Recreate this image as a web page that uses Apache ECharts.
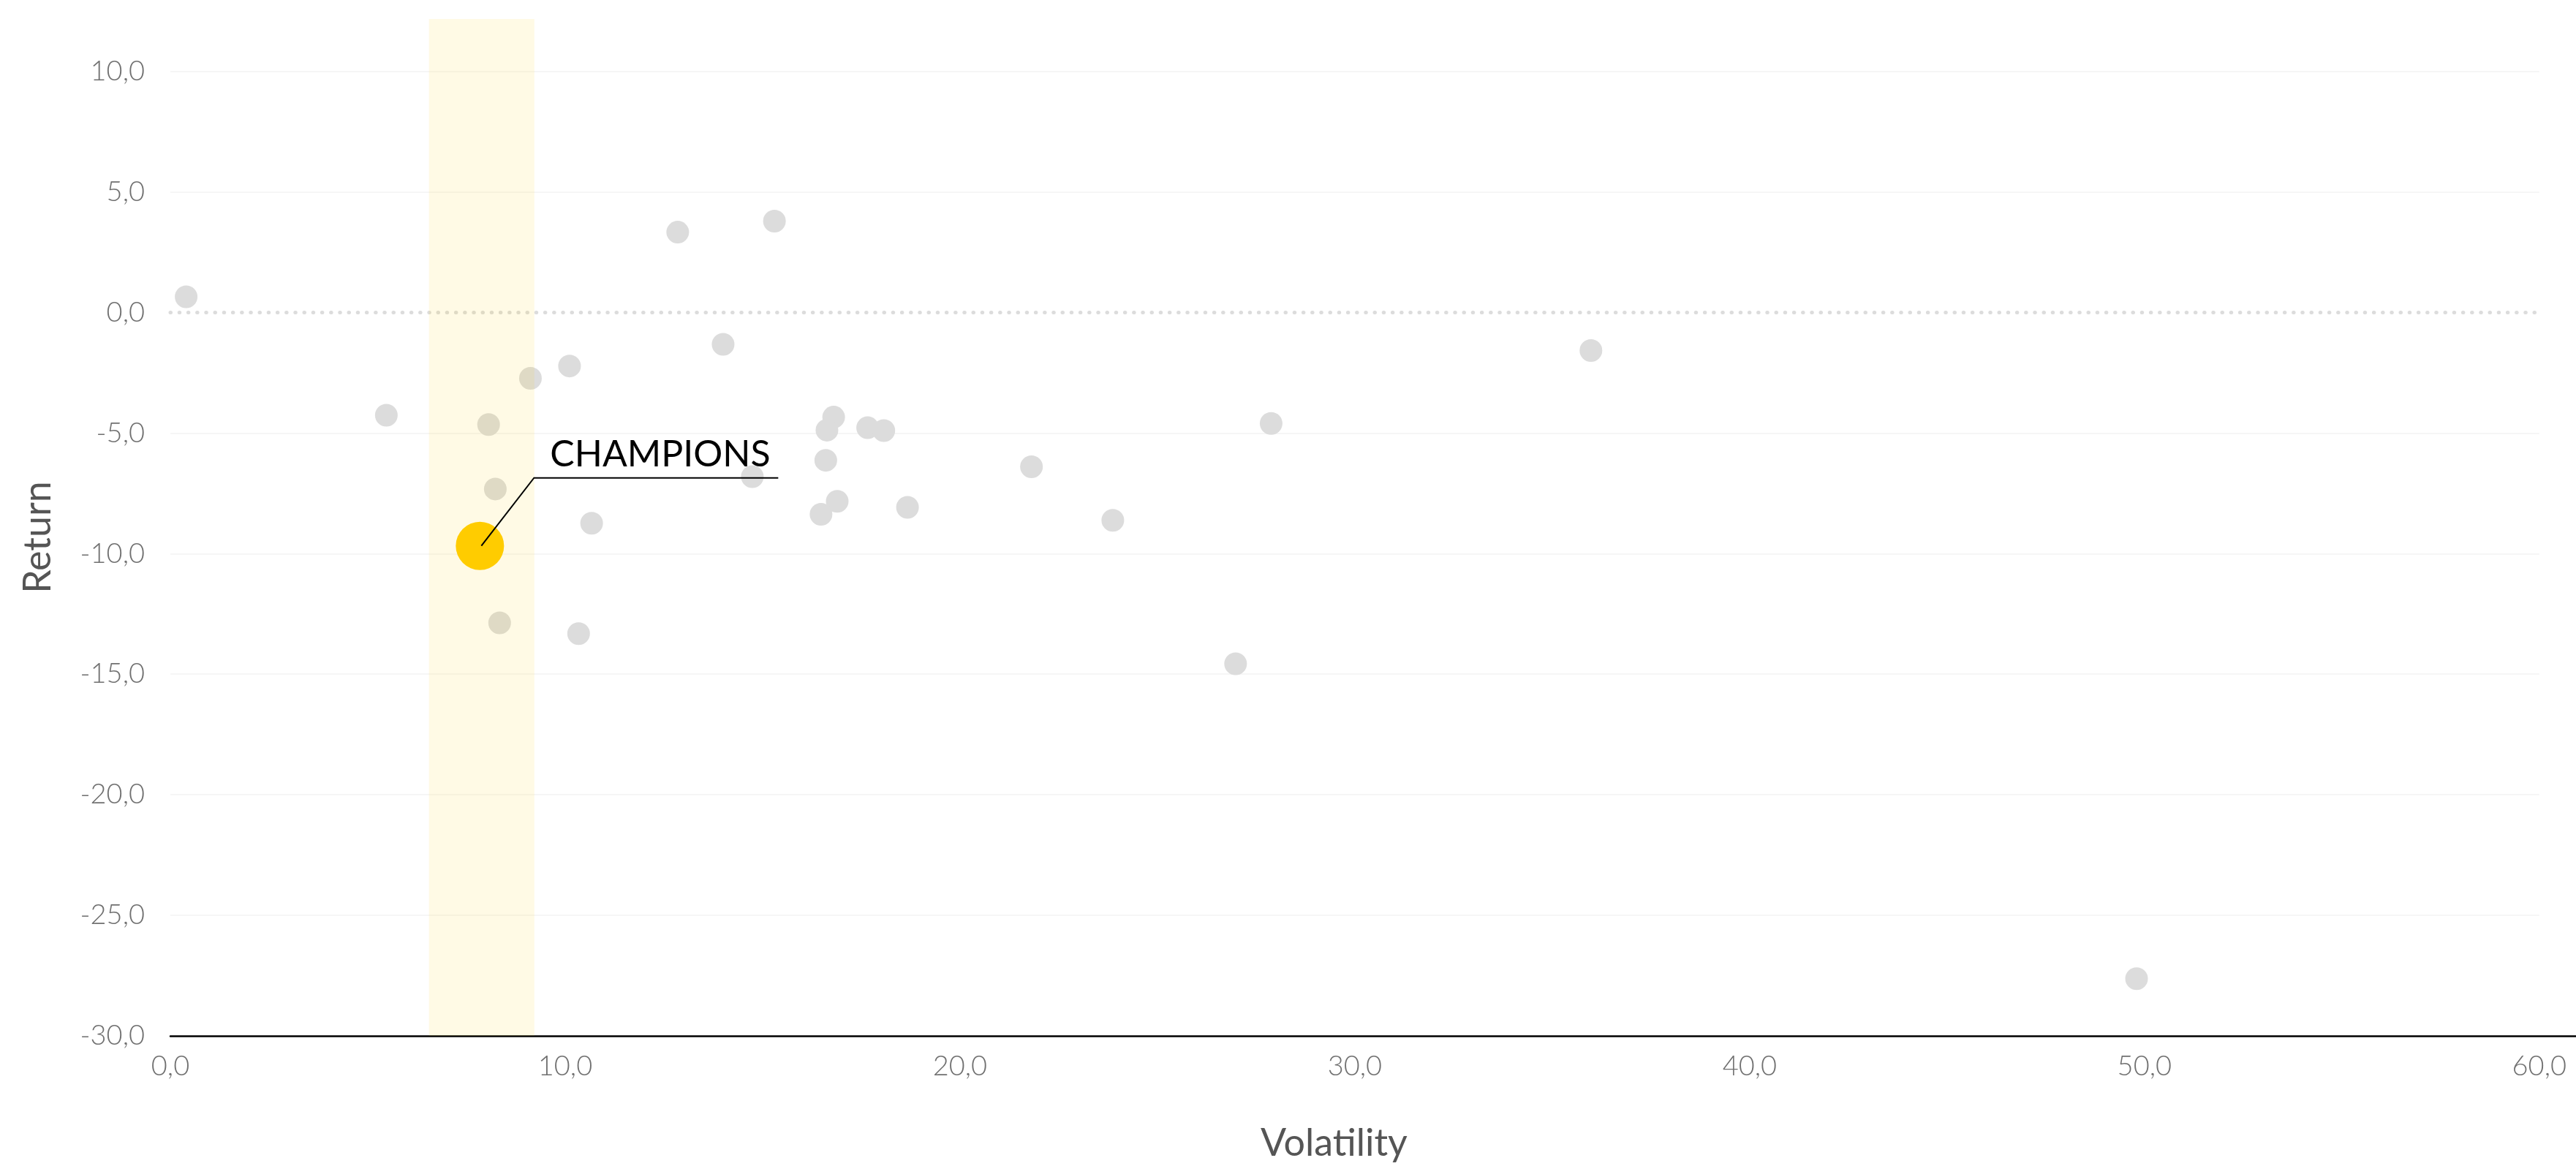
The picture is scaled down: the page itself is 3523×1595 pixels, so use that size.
<!DOCTYPE html>
<html><head><meta charset="utf-8">
<script src="https://cdn.jsdelivr.net/npm/echarts@6/dist/echarts.min.js"></script>
<style>html,body{margin:0;padding:0;background:#fff}#c{width:3523px;height:1595px}</style>
</head><body><div id="c"></div>
<script>
// ---- data ----
const volatility = [0.40, 5.47, 8.06, 8.23, 8.34, 9.12, 10.11, 10.67, 10.34, 12.85, 14.00, 15.30, 14.74, 16.80, 16.63, 16.60, 16.89, 16.48, 17.66, 18.07, 18.67, 21.81, 23.87, 26.98, 27.88, 35.98, 49.80];
const returns    = [0.65, -4.26, -4.65, -7.32, -12.87, -2.73, -2.22, -8.74, -13.32, 3.33, -1.32, 3.79, -6.81, -4.34, -4.88, -6.13, -7.83, -8.37, -4.78, -4.90, -8.08, -6.40, -8.62, -14.57, -4.60, -1.58, -27.63];
const championPoint = [7.84, -9.68];
const championLabel = 'CHAMPIONS';
const bandRange = [6.55, 9.22];
const xAxisTicks = [0, 10, 20, 30, 40, 50, 60];
const xAxisLineEnd = 60.93;   // axis line runs on past the last tick
const yAxisTicks = [-30, -25, -20, -15, -10, -5, 0, 5, 10];
const yAxisTop = 12.17;
const xTitle = 'Volatility';
const yTitle = 'Return';

const fmt = v => v.toFixed(1).replace('.', ',');
const grayPoints = volatility.map((v, i) => [v, returns[i]]);
const xFirst = xAxisTicks[0], xLast = xAxisTicks[xAxisTicks.length - 1];

const chart = echarts.init(document.getElementById('c'), null, {renderer: 'canvas'});
const FONT = 'Lato';
const option = {
  backgroundColor: '#ffffff',
  animation: false,
  grid: {left: 233, right: 0, top: 26, bottom: 174},
  xAxis: {
    type: 'value',
    min: xFirst, max: xAxisLineEnd, interval: xAxisTicks[1] - xAxisTicks[0],
    name: xTitle, nameLocation: 'middle', nameGap: 121,
    nameTextStyle: {fontFamily: FONT, fontSize: 52, color: '#555555', padding: [0, 57 + 50, 0, 0]},
    axisLine: {show: true, onZero: false, lineStyle: {color: '#000000', width: 2.5}},
    axisTick: {show: false},
    splitLine: {show: false},
    axisLabel: {formatter: fmt, showMaxLabel: false, fontFamily: FONT, fontWeight: 300, fontSize: 38, color: '#707070', margin: 23}
  },
  yAxis: {
    type: 'value',
    min: yAxisTicks[0], max: yAxisTop, interval: yAxisTicks[1] - yAxisTicks[0],
    name: yTitle, nameLocation: 'middle', nameGap: 155, nameRotate: 90,
    nameTextStyle: {fontFamily: FONT, fontSize: 52, color: '#555555', padding: [0, 27, 0, 0]},
    axisLine: {show: false},
    axisTick: {show: false},
    splitLine: {show: false},
    axisLabel: {formatter: fmt, showMaxLabel: false, fontFamily: FONT, fontWeight: 300, fontSize: 38, color: '#707070', margin: 35}
  },
  series: [
    {
      type: 'scatter', name: 'others', z: 2,
      symbol: 'circle', symbolSize: 31,
      itemStyle: {color: '#dcdcdc', opacity: 1},
      data: grayPoints,
      markLine: {
        silent: true, symbol: 'none', z: 1,
        label: {show: false},
        lineStyle: {color: '#f6f6f6', width: 2, type: 'solid'},
        data: yAxisTicks.filter(v => v !== 0 && v !== yAxisTicks[0]).map(v => [{coord: [xFirst, v]}, {coord: [xLast, v]}])
      },
      markArea: {
        silent: true, z: 3,
        itemStyle: {color: 'rgba(255,204,0,0.1)'},
        data: [[{xAxis: bandRange[0], yAxis: yAxisTop}, {xAxis: bandRange[1], yAxis: yAxisTicks[0]}]]
      }
    },
    {
      type: 'scatter', name: 'zero', z: 2, data: [],
      markLine: {
        silent: true, symbol: 'none', z: 2,
        label: {show: false},
        lineStyle: {color: '#dcdcdc', width: 5, type: [0.5, 11.7], cap: 'round'},
        data: [[{coord: [xFirst, 0]}, {coord: [xLast, 0]}]]
      }
    },
    {
      type: 'scatter', name: championLabel, z: 5,
      symbol: 'circle', symbolSize: 66,
      itemStyle: {color: '#ffcc00', opacity: 1},
      data: [championPoint]
    }
  ]
};
chart.setOption(option);

function addAnnotations() {
  const p = chart.convertToPixel({gridIndex: 0}, championPoint);
  chart.setOption({
    graphic: [
      {
        type: 'polyline', z: 10, silent: true,
        shape: {points: [[p[0] + 2, p[1]], [p[0] + 74, p[1] - 93], [p[0] + 408, p[1] - 93]]},
        style: {stroke: '#000000', lineWidth: 2, fill: null}
      },
      {
        type: 'text', z: 10, silent: true,
        style: {text: championLabel, x: p[0] + 96, y: p[1] - 100, verticalAlign: 'bottom',
                font: '400 50px Lato', fill: '#000000'}
      }
    ]
  });
}
addAnnotations();
</script>
</body></html>
